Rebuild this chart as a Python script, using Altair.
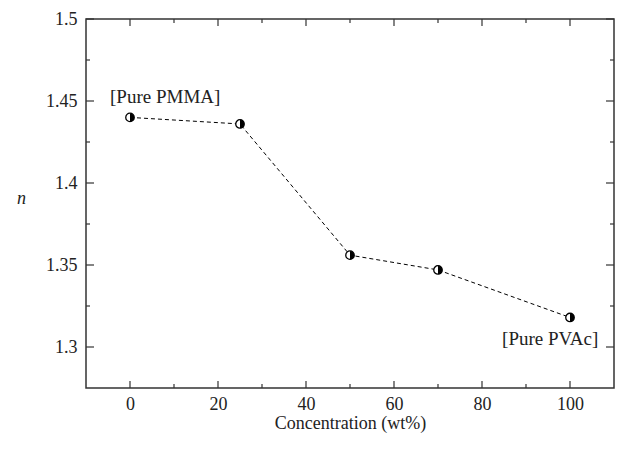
import altair as alt
import pandas as pd

# Data
conc = [0, 25, 50, 70, 100]
n_vals = [1.440, 1.436, 1.356, 1.347, 1.318]

label_text = ["[Pure PMMA]", "[Pure PVAc]"]
label_x = [8, 95.5]
label_y = [1.4525, 1.3046]

x_major = [0, 20, 40, 60, 80, 100]
x_minor = [10, 30, 50, 70, 90]
y_major = [1.3, 1.35, 1.4, 1.45, 1.5]
y_minor = [1.325, 1.375, 1.425, 1.475]

W, H = 528, 369
FONT = "Liberation Serif"
TXT = "#222222"
FS = 18

df = pd.DataFrame({"c": conc, "n": n_vals})
lab = pd.DataFrame({"t": label_text, "c": label_x, "n": label_y})

xs = alt.Scale(domain=[-10, 110], nice=False, zero=False)
ys = alt.Scale(domain=[1.275, 1.5], nice=False, zero=False)

x_enc = alt.X("c:Q", scale=xs, axis=alt.Axis(
    title="Concentration (wt%)", values=x_major, labelPadding=7,
    titlePadding=1, labelFlush=False))
y_enc = alt.Y("n:Q", scale=ys, axis=alt.Axis(
    title="n", values=y_major, format="~g", labelPadding=9,
    titleFontStyle="italic", titleAngle=0,
    titleAlign="center", titleBaseline="middle", titleX=-65, titleY=179))

line = alt.Chart(df).mark_line(color="black", strokeDash=[4, 3], strokeWidth=1).encode(
    x=x_enc, y=y_enc)

pts = alt.Chart(df).mark_point(shape="circle", filled=True, fill="white",
                               stroke="black", strokeWidth=1.3, size=72, opacity=1).encode(
    x="c:Q", y="n:Q")
half = alt.Chart(df).mark_point(shape="M0,-1A1,1 0 0,1 0,1Z", filled=True,
                                fill="black", strokeWidth=0, size=72, opacity=1).encode(
    x="c:Q", y="n:Q")

texts = alt.Chart(lab).mark_text(font=FONT, fontSize=FS + 1, color=TXT,
                                 align="center", baseline="middle").encode(
    x="c:Q", y="n:Q", text="t:N")

xmaj = pd.DataFrame({"c": x_major})
xmin = pd.DataFrame({"c": x_minor})
ymaj = pd.DataFrame({"n": y_major})
ymin = pd.DataFrame({"n": y_minor})

TC = "#333333"
def xticks(d, L):
    b = alt.Chart(d).mark_rule(color=TC, strokeWidth=1.2).encode(
        x="c:Q", y=alt.value(H), y2=alt.value(H - L))
    t = alt.Chart(d).mark_rule(color=TC, strokeWidth=1.2).encode(
        x="c:Q", y=alt.value(0), y2=alt.value(L))
    return [b, t]

def yticks(d, L):
    l = alt.Chart(d).mark_rule(color=TC, strokeWidth=1.2).encode(
        y="n:Q", x=alt.value(0), x2=alt.value(L))
    r = alt.Chart(d).mark_rule(color=TC, strokeWidth=1.2).encode(
        y="n:Q", x=alt.value(W), x2=alt.value(W - L))
    return [l, r]

layers = [line] + xticks(xmaj, 7) + xticks(xmin, 4) + yticks(ymaj, 8) + yticks(ymin, 4) + [pts, half, texts]

chart = alt.layer(*layers).properties(
    width=W, height=H,
    autosize=alt.AutoSizeParams(type="none"),
    padding={"left": 78, "top": 11, "right": 5, "bottom": 52},
).configure(
    background="white",
    view=alt.ViewConfig(stroke="#333333", strokeWidth=1.5),
    axis=alt.AxisConfig(
        grid=False, domain=False, ticks=False, tickSize=0,
        labelFont=FONT, titleFont=FONT, labelFontSize=FS, titleFontSize=FS,
        labelColor=TXT, titleColor=TXT, titleFontWeight="normal"),
)

chart.save("out.html", embed_options={"renderer": "svg", "actions": False})
